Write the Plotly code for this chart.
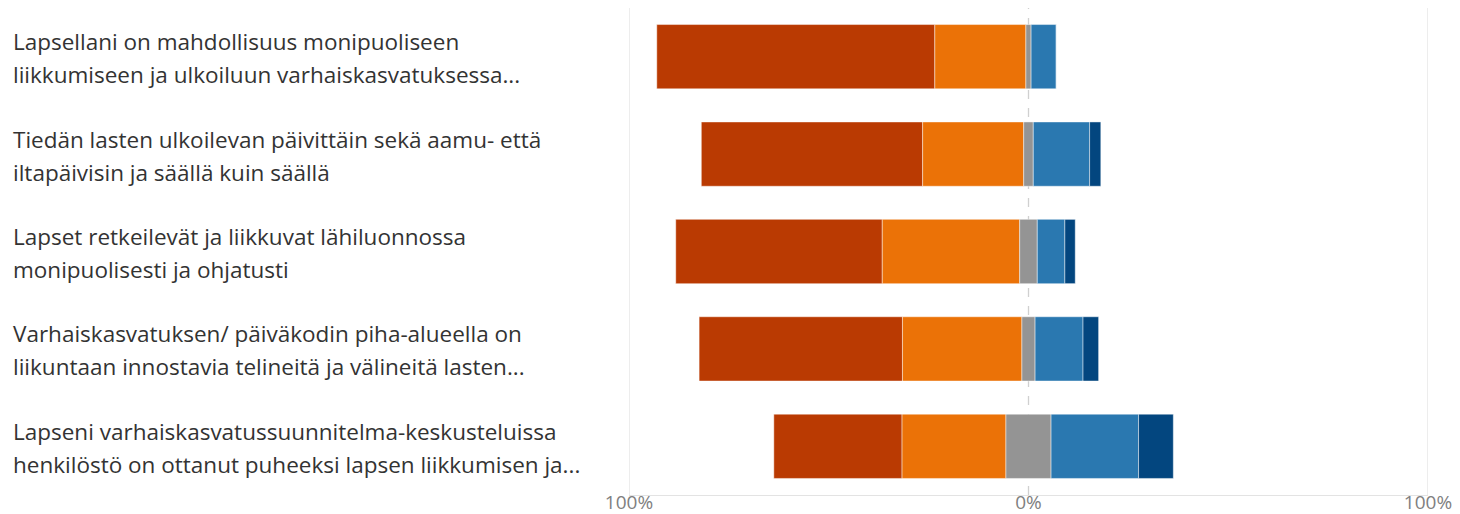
import plotly.graph_objects as go

categories = [
    "Lapsellani on mahdollisuus monipuoliseen|liikkumiseen ja ulkoiluun varhaiskasvatuksessa...",
    "Tiedän lasten ulkoilevan päivittäin sekä aamu- että|iltapäivisin ja säällä kuin säällä",
    "Lapset retkeilevät ja liikkuvat lähiluonnossa|monipuolisesti ja ohjatusti",
    "Varhaiskasvatuksen/ päiväkodin piha-alueella on|liikuntaan innostavia telineitä ja välineitä lasten...",
    "Lapseni varhaiskasvatussuunnitelma-keskusteluissa|henkilöstö on ottanut puheeksi lapsen liikkumisen ja...",
]
strongly_agree = [69.6, 55.4, 51.7, 50.9, 32.1]
agree = [22.8, 25.3, 34.4, 29.9, 26.0]
neutral = [1.3, 2.4, 4.4, 3.3, 11.3]
disagree = [6.3, 14.1, 6.9, 12.0, 21.9]
strongly_disagree = [0.0, 2.8, 2.6, 3.9, 8.7]
tick_vals = [-100, 0, 100]
tick_text = ["100%", "0%", "100%"]

colors = ["#BA3A02", "#EB7207", "#949494", "#2A78B0", "#03467F"]
names = ["Täysin samaa mieltä", "Samaa mieltä", "En osaa sanoa", "Eri mieltä", "Täysin eri mieltä"]

ypos = list(range(len(categories)))

bases = []
widths = []
for i in range(len(categories)):
    r, o, g, b, d = strongly_agree[i], agree[i], neutral[i], disagree[i], strongly_disagree[i]
    bases.append([-(r + o + g / 2), -(o + g / 2), -g / 2, g / 2, g / 2 + b])
    widths.append([r, o, g, b, d])

fig = go.Figure()
for k in range(5):
    fig.add_trace(go.Bar(
        y=ypos,
        x=[widths[i][k] for i in range(len(categories))],
        base=[bases[i][k] for i in range(len(categories))],
        orientation="h",
        name=names[k],
        marker=dict(color=colors[k], line=dict(color="rgba(255,255,255,0.45)", width=1)),
        width=0.66,
        showlegend=False,
    ))

shapes = []
for xv, dash in [(-100, "solid"), (100, "solid"), (0, "dash")]:
    shapes.append(dict(type="line", xref="x", yref="paper", x0=xv, x1=xv, y0=0, y1=1,
                       line=dict(color="#e3e3e3" if dash == "solid" else "#d0d0d0", width=1.3, dash=dash),
                       layer="below"))

W, H = 1452, 506
ML, MR, MT, MB = 621, 32, 0, 19
plot_w = W - ML - MR

annotations = []
font_fam = "Open Sans, Noto Sans, sans-serif"
for i, cat in enumerate(categories):
    lines = cat.split("|")
    for j, line in enumerate(lines):
        annotations.append(dict(
            xref="paper", yref="y", x=(3 - ML) / plot_w, y=i,
            xanchor="left", yanchor="middle", showarrow=False,
            text=line, font=dict(family=font_fam, size=22.5, color="#333333"),
            yshift=15 if j == 0 else -18,
        ))

fig.update_layout(
    width=W, height=H,
    margin=dict(l=ML, r=MR, t=MT, b=MB),
    barmode="overlay",
    plot_bgcolor="white", paper_bgcolor="white",
    shapes=shapes, annotations=annotations,
    xaxis=dict(range=[-100, 100], tickvals=tick_vals, ticktext=tick_text, automargin=False,
               showgrid=False, zeroline=False, showline=True, linecolor="#e3e3e3", linewidth=1,
               ticklabelstandoff=-10,
               tickfont=dict(family=font_fam, size=19, color="#808080"), ticks=""),
    yaxis=dict(range=[4.5, -0.5], showticklabels=False, showgrid=False, zeroline=False, automargin=False),
    font=dict(family=font_fam),
)

fig.write_html("out.html")
